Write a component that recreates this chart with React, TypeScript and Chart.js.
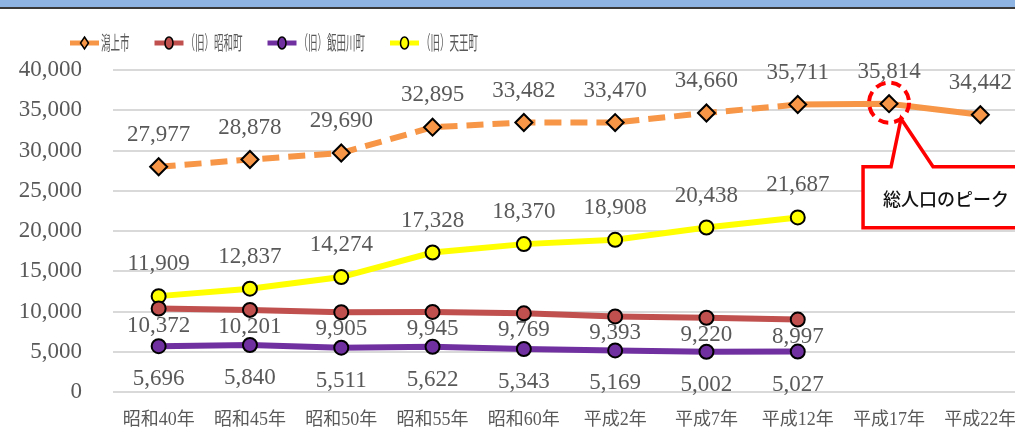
import React, { useEffect, useRef } from "react";
import { Chart, registerables } from "chart.js";

Chart.register(...registerables);

const categories = ["昭和40年", "昭和45年", "昭和50年", "昭和55年", "昭和60年", "平成2年", "平成7年", "平成12年", "平成17年", "平成22年"];
const seriesNames = ["潟上市", "（旧）昭和町", "（旧）飯田川町", "（旧）天王町"];
const katagamiValues = [27977, 28878, 29690, 32895, 33482, 33470, 34660, 35711, 35814, 34442];
const showaValues = [10372, 10201, 9905, 9945, 9769, 9393, 9220, 8997, null, null];
const iidagawaValues = [5696, 5840, 5511, 5622, 5343, 5169, 5002, 5027, null, null];
const tennoValues = [11909, 12837, 14274, 17328, 18370, 18908, 20438, 21687, null, null];
const yMin = 0;
const yMax = 40000;
const yStep = 5000;
const peakIndex = 8;
const calloutText = "総人口のピーク";

const LABEL_COLOR = "#595959";
const SERIF = '"Liberation Serif", "DejaVu Serif", serif';

const dataLabelPlugin = {
  id: "dataLabels",
  afterDatasetsDraw(chart: any) {
    const ctx = chart.ctx;
    ctx.save();
    ctx.fillStyle = LABEL_COLOR;
    ctx.font = `23px ${SERIF}`;
    ctx.textAlign = "center";
    ctx.textBaseline = "middle";
    chart.data.datasets.forEach((ds: any, di: number) => {
      const meta = chart.getDatasetMeta(di);
      meta.data.forEach((pt: any, i: number) => {
        const v = ds.data[i];
        if (v === null || v === undefined) return;
        ctx.fillText(v.toLocaleString("en-US"), pt.x, pt.y + ds.labelOffset);
      });
    });
    ctx.restore();
  },
};

const legendPlugin = {
  id: "customLegend",
  afterDraw(chart: any) {
    const ctx = chart.ctx;
    ctx.save();
    let x = 70;
    const y = 43;
    const squeeze = 0.5;
    ctx.font = `19px "Noto Sans CJK JP", sans-serif`;
    chart.data.datasets.forEach((ds: any) => {
      ctx.strokeStyle = ds.borderColor;
      ctx.lineWidth = 5;
      ctx.beginPath();
      ctx.moveTo(x, y);
      ctx.lineTo(x + 29, y);
      ctx.stroke();
      const cx = x + 14.5;
      ctx.fillStyle = ds.pointBackgroundColor;
      ctx.strokeStyle = "#000";
      ctx.lineWidth = 1.5;
      ctx.beginPath();
      if (ds.pointStyle === "rectRot") {
        ctx.moveTo(cx, y - 6);
        ctx.lineTo(cx + 4, y);
        ctx.lineTo(cx, y + 6);
        ctx.lineTo(cx - 4, y);
        ctx.closePath();
      } else {
        ctx.ellipse(cx, y, 4, 6, 0, 0, Math.PI * 2);
      }
      ctx.fill();
      ctx.stroke();
      const tx = x + 31;
      ctx.save();
      ctx.translate(tx, y);
      ctx.scale(squeeze, 1);
      ctx.fillStyle = LABEL_COLOR;
      ctx.textAlign = "left";
      ctx.textBaseline = "middle";
      ctx.fillText(ds.label, 0, 0);
      const w = ctx.measureText(ds.label).width * squeeze;
      ctx.restore();
      x = tx + w + 25;
    });
    ctx.restore();
  },
};

const calloutPlugin = {
  id: "callout",
  afterDraw(chart: any) {
    const meta = chart.getDatasetMeta(0);
    const p = meta.data[peakIndex];
    if (!p) return;
    const ctx = chart.ctx;
    ctx.save();
    ctx.strokeStyle = "#FF0000";
    ctx.lineWidth = 4;
    ctx.setLineDash([10, 6]);
    ctx.beginPath();
    ctx.arc(p.x, p.y - 1, 20, 0, Math.PI * 2);
    ctx.stroke();
    ctx.setLineDash([]);
    const left = p.x - 26;
    const top = p.y + 63;
    const bottom = p.y + 124;
    const right = chart.width + 10;
    ctx.beginPath();
    ctx.moveTo(left, top);
    ctx.lineTo(p.x + 2, top);
    ctx.lineTo(p.x + 12, p.y + 15);
    ctx.lineTo(p.x + 44, top);
    ctx.lineTo(right, top);
    ctx.lineTo(right, bottom);
    ctx.lineTo(left, bottom);
    ctx.closePath();
    ctx.fillStyle = "#FFFFFF";
    ctx.fill();
    ctx.strokeStyle = "#FF0000";
    ctx.lineWidth = 3.5;
    ctx.lineJoin = "miter";
    ctx.stroke();
    ctx.fillStyle = "#111";
    ctx.font = `500 18px "Noto Sans CJK JP", sans-serif`;
    ctx.textAlign = "left";
    ctx.textBaseline = "middle";
    ctx.fillText(calloutText, p.x - 6, (top + bottom) / 2 + 2);
    ctx.restore();
  },
};

export default function App() {
  const ref = useRef<HTMLCanvasElement>(null);
  useEffect(() => {
    if (!ref.current) return;
    const chart = new Chart(ref.current, {
      type: "line",
      data: {
        labels: categories,
        datasets: [
          {
            label: seriesNames[0],
            data: katagamiValues,
            borderColor: "#F79646",
            backgroundColor: "#F79646",
            borderWidth: 6,
            borderDash: [17, 9],
            segment: {
              borderDash: (c: any) => (c.p0DataIndex >= 7 ? [] : [17, 9]),
            },
            pointStyle: "rectRot",
            pointRadius: 8.5,
            pointBackgroundColor: "#F79646",
            pointBorderColor: "#000",
            pointBorderWidth: 2,
            labelOffset: -32,
          } as any,
          {
            label: seriesNames[1],
            data: showaValues,
            borderColor: "#C0504D",
            backgroundColor: "#C0504D",
            borderWidth: 6,
            pointStyle: "circle",
            pointRadius: 7,
            pointBackgroundColor: "#C0504D",
            pointBorderColor: "#000",
            pointBorderWidth: 2,
            labelOffset: 17,
          } as any,
          {
            label: seriesNames[2],
            data: iidagawaValues,
            borderColor: "#7030A0",
            backgroundColor: "#7030A0",
            borderWidth: 6,
            pointStyle: "circle",
            pointRadius: 7,
            pointBackgroundColor: "#7030A0",
            pointBorderColor: "#000",
            pointBorderWidth: 2,
            labelOffset: 33,
          } as any,
          {
            label: seriesNames[3],
            data: tennoValues,
            borderColor: "#FFFF00",
            backgroundColor: "#FFFF00",
            borderWidth: 6,
            pointStyle: "circle",
            pointRadius: 7,
            pointBackgroundColor: "#FFFF00",
            pointBorderColor: "#000",
            pointBorderWidth: 2,
            labelOffset: -32,
          } as any,
        ],
      },
      options: {
        responsive: false,
        animation: false,
        spanGaps: false,
        layout: { padding: { left: 0, right: 19, top: 70, bottom: 0 } },
        plugins: {
          legend: { display: false },
          tooltip: { enabled: false },
        },
        scales: {
          x: {
            offset: true,
            grid: { display: false },
            border: { display: false },
            ticks: {
              color: LABEL_COLOR,
              font: { family: '"Liberation Serif", "Noto Sans CJK JP"', size: 18 },
              padding: 9,
              maxRotation: 0,
              autoSkip: false,
            },
            afterFit: (s: any) => {
              s.height = 40;
            },
          },
          y: {
            min: yMin,
            max: yMax,
            ticks: {
              stepSize: yStep,
              color: LABEL_COLOR,
              font: { family: SERIF, size: 23 },
              padding: 5,
              callback: (v: any) => Number(v).toLocaleString("en-US"),
            },
            grid: {
              color: "#D9D9D9",
              lineWidth: 2,
              drawTicks: true,
              tickLength: 26,
              tickColor: "rgba(0,0,0,0)",
            },
            border: { display: false },
            afterFit: (s: any) => {
              s.width = 113;
            },
          },
        },
      },
      plugins: [dataLabelPlugin, legendPlugin, calloutPlugin],
    });
    return () => chart.destroy();
  }, []);

  return (
    <div
      style={{
        position: "fixed",
        left: 0,
        top: 0,
        width: 1015,
        height: 432,
        overflow: "hidden",
        background: "#fff",
      }}
    >
      <canvas ref={ref} width={1045} height={432} style={{ position: "absolute", left: 0, top: 0 }} />
      <div style={{ position: "absolute", left: 0, top: 0, width: 1015, height: 7, background: "#8DB4E2" }} />
      <div style={{ position: "absolute", left: 0, top: 7, width: 1015, height: 2, background: "#3A3A3A" }} />
    </div>
  );
}
